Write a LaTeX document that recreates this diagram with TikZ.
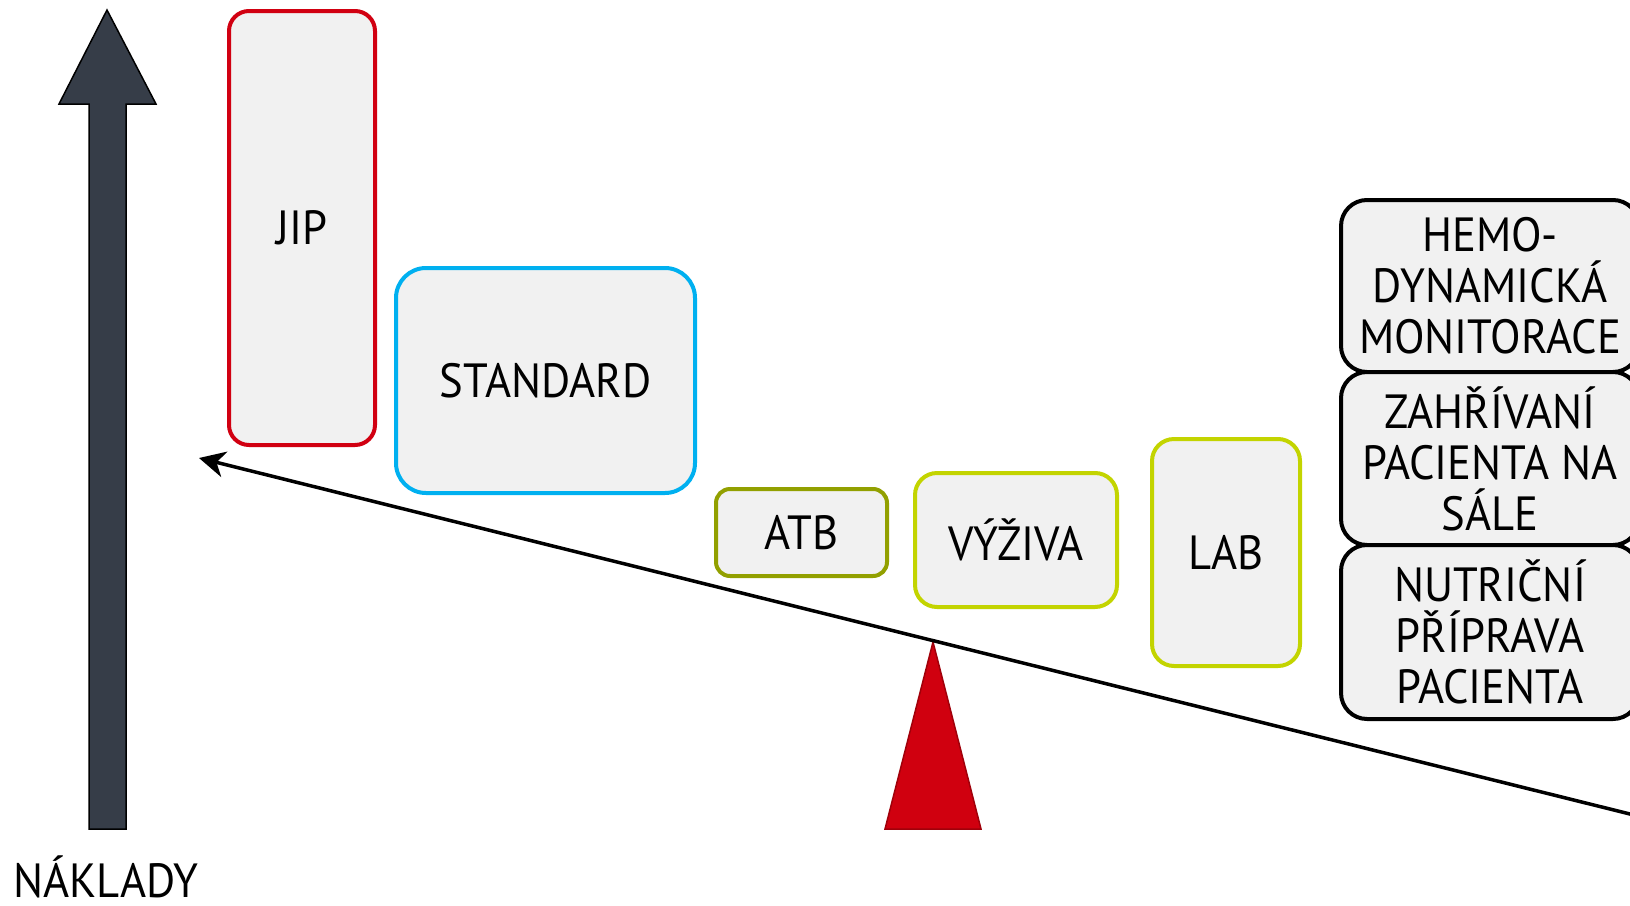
\documentclass[tikz,border=0pt]{standalone}
\usepackage{fontspec}
\setmainfont{PT Sans}[FakeStretch=0.93]
\usetikzlibrary{arrows.meta}
\definecolor{arrowfill}{RGB}{54,61,72}
\definecolor{jipred}{RGB}{209,0,17}
\definecolor{stdblue}{RGB}{0,176,240}
\definecolor{atbolive}{RGB}{146,160,0}
\definecolor{lime}{RGB}{195,212,0}
\definecolor{boxfill}{RGB}{241,241,241}
\definecolor{pivotred}{RGB}{208,0,15}
\definecolor{pivotedge}{RGB}{160,0,10}
\tikzset{
  plaintxt/.style={font=\fontsize{48}{51}\selectfont, text=black, inner sep=0pt},
  txt/.style={plaintxt, align=center},
  rbox/.style={txt, draw=#1, fill=boxfill, line width=4pt},
}
\begin{document}
\begin{tikzpicture}[x=1pt,y=-1pt]
\useasboundingbox (0,0) rectangle (1630,905);
\clip (0,0) rectangle (1630,905);
% big cost arrow
\draw[fill=arrowfill, line width=1.5pt, line join=miter]
  (89,829) -- (89,104) -- (59,104) -- (107,10) -- (156,104) -- (126,104) -- (126,829) -- cycle;
\node[plaintxt, anchor=base] (naklady) at (106,897) {NÁKLADY};
% boxes
\node[rbox=jipred, rounded corners=20pt, minimum width=146pt, minimum height=434pt] (jip) at (302,228) {JIP};
\node[rbox=stdblue, rounded corners=30pt, minimum width=299pt, minimum height=225pt] (std) at (545.5,380.5) {STANDARD};
\node[rbox=atbolive, rounded corners=14pt, minimum width=171pt, minimum height=87pt] (atb) at (801.5,532.5) {ATB};
\node[rbox=lime, rounded corners=22pt, minimum width=202pt, minimum height=134pt] (vyz) at (1016,540) {VÝŽIVA};
\node[rbox=lime, rounded corners=22pt, minimum width=148pt, minimum height=227pt] (lab) at (1226,552.5) {LAB};
\node[rbox=black, rounded corners=26pt, minimum width=298pt, minimum height=172pt] (hemo) at (1490,286) {HEMO-\\DYNAMICKÁ\\MONITORACE};
\node[rbox=black, rounded corners=26pt, minimum width=298pt, minimum height=173pt] (zahr) at (1490,458.5) {ZAHŘÍVANÍ\\PACIENTA NA\\SÁLE};
\node[rbox=black, rounded corners=26pt, minimum width=298pt, minimum height=174pt] (nutr) at (1490,632) {NUTRIČNÍ\\PŘÍPRAVA\\PACIENTA};
% pivot
\coordinate (pivot) at (933,642);
\draw[fill=pivotred, draw=pivotedge, line width=1.5pt] (pivot) -- (981,829) -- (885,829) -- cycle;
% beam
\coordinate (beamR) at (1640,816.5);
\coordinate (beamL) at (199,458);
\draw[line width=3.5pt, -{Stealth[length=26pt, width=26pt, inset=8pt]}] (beamR) -- (beamL);
\end{tikzpicture}
\end{document}
